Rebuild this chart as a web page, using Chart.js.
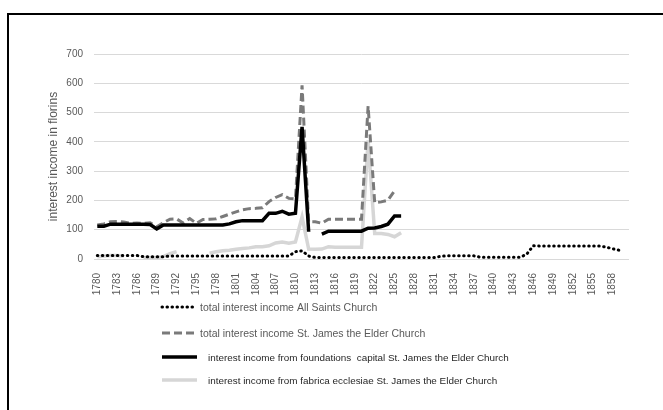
<!DOCTYPE html>
<html>
<head>
<meta charset="utf-8">
<script src="https://cdn.jsdelivr.net/npm/chart.js@4/dist/chart.umd.min.js"></script>
<style>
  html, body { margin: 0; padding: 0; background: #fff; }
  #wrap { position: relative; width: 663px; height: 410px; overflow: hidden; }
  #frame { position: absolute; left: 7px; top: 13px; width: 700px; height: 450px;
           border-left: 2px solid #000; border-top: 2px solid #000; }
  #c { position: absolute; left: 0; top: 0; }
</style>
</head>
<body>
<div id="wrap">
  <div id="frame"></div>
  <canvas id="c" width="663" height="410"></canvas>
</div>
<script>
// Years on the category axis
const years = [
  '1780','1781','1782','1783','1784','1785','1786','1787','1788','1789',
  '1790','1791','1792','1793','1794','1795','1796','1797','1798','1799',
  '1800','1801','1802','1803','1804','1805','1806','1807','1808','1809',
  '1810','1811','1812','1813','1814','1815','1816','1817','1818','1819',
  '1820','1821','1822','1823','1824','1825','1826','1827','1828','1829',
  '1830','1831','1832','1833','1834','1835','1836','1837','1838','1839',
  '1840','1841','1842','1843','1844','1845','1846','1847','1848','1849',
  '1850','1851','1852','1853','1854','1855','1856','1857','1858','1859',
  '1860'
];

// Interest income in florins, one value per year (null = no record)
const allSaintsTotal = [
  12, 12, 12, 12, 12, 12, 12, 8, 8, 8,
  8, 10, 10, 10, 10, 10, 10, 10, 10, 10,
  10, 10, 10, 10, 10, 10, 10, 10, 10, 10,
  25, 28, 10, 5, 5, 5, 5, 5, 5, 5,
  5, 5, 5, 5, 5, 5, 5, 5, 5, 5,
  5, 5, 9, 11, 11, 11, 11, 11, 6, 6,
  6, 6, 6, 6, 6, 16, 45, 44, 44, 44,
  44, 44, 44, 44, 44, 44, 44, 41, 35, 30,
  null
];

const stJamesTotal = [
  116, 120, 127, 128, 126, 122, 123, 122, 124, 110,
  124, 136, 137, 123, 138, 122, 135, 136, 137, 145,
  153, 161, 168, 172, 173, 175, 196, 210, 220, 207,
  205, 593, 127, 127, 122, 136, 136, 136, 136, 136,
  136, 522, 192, 195, 201, 233, null, null, null, null,
  null, null, null, null, null, null, null, null, null, null,
  null, null, null, null, null, null, null, null, null, null,
  null, null, null, null, null, null, null, null, null, null,
  null
];

const foundationsCapital = [
  112, 112, 119, 119, 119, 119, 119, 119, 118, 103,
  116, 116, 116, 116, 116, 116, 116, 116, 116, 116,
  120, 127, 131, 131, 131, 131, 156, 156, 163, 153,
  156, 451, 93, null, 85, 95, 95, 95, 95, 95,
  95, 105, 106, 111, 119, 147, 147, null, null, null,
  null, null, null, null, null, null, null, null, null, null,
  null, null, null, null, null, null, null, null, null, null,
  null, null, null, null, null, null, null, null, null, null,
  null
];

const fabricaEcclesiae = [
  8, 10, 12, 12, 10, null, null, 5, 5, 5,
  8, 18, 25, null, null, null, null, 20, 25, 28,
  30, 33, 36, 38, 42, 42, 45, 55, 58, 54,
  58, 144, 34, 33, 34, 42, 40, 40, 40, 40,
  40, 405, 87, 87, 84, 76, 90, null, null, null,
  null, null, null, null, null, null, null, null, null, null,
  null, null, null, null, null, null, null, null, null, null,
  null, null, null, null, null, null, null, null, null, null,
  null
];

const yTicks = [0, 100, 200, 300, 400, 500, 600, 700];

const FONT = '"Liberation Sans", Arial, sans-serif';

// Legend drawn as a single column under the plot
const stackedLegend = {
  id: 'stackedLegend',
  afterDraw(chart, args, opts) {
    const ctx = chart.ctx;
    ctx.save();
    chart.data.datasets.forEach((ds, i) => {
      const row = opts.rows[i];
      ctx.beginPath();
      ctx.setLineDash(ds.borderDash || []);
      ctx.lineCap = ds.borderCapStyle || 'butt';
      ctx.lineWidth = ds.borderWidth;
      ctx.strokeStyle = ds.borderColor;
      ctx.moveTo(opts.sampleStart, row.y);
      ctx.lineTo(opts.sampleEnd, row.y);
      ctx.stroke();
      ctx.setLineDash([]);
      ctx.fillStyle = row.color;
      ctx.font = row.size + 'px ' + FONT;
      ctx.textBaseline = 'middle';
      ctx.textAlign = 'left';
      ctx.fillText(ds.label, row.textX, row.y + 1);
    });
    ctx.restore();
  }
};

new Chart(document.getElementById('c'), {
  type: 'line',
  data: {
    labels: years,
    datasets: [
      {
        label: 'total interest income All Saints Church',
        data: allSaintsTotal,
        borderColor: '#000000',
        borderWidth: 3,
        borderDash: [0.5, 4.5],
        borderCapStyle: 'round',
        order: 0
      },
      {
        label: 'total interest income St. James the Elder Church',
        data: stJamesTotal,
        borderColor: '#7a7a7a',
        borderWidth: 3,
        borderDash: [8, 4],
        order: 2
      },
      {
        label: 'interest income from foundations  capital St. James the Elder Church',
        data: foundationsCapital,
        borderColor: '#000000',
        borderWidth: 3.5,
        order: 1
      },
      {
        label: 'interest income from fabrica ecclesiae St. James the Elder Church',
        data: fabricaEcclesiae,
        borderColor: '#d6d6d6',
        borderWidth: 3.5,
        order: 3
      }
    ]
  },
  options: {
    responsive: false,
    animation: false,
    devicePixelRatio: 1,
    spanGaps: false,
    elements: {
      line: { tension: 0, fill: false, borderJoinStyle: 'miter' },
      point: { radius: 0, hoverRadius: 0 }
    },
    layout: { padding: { top: 54, right: 34, left: 0, bottom: 0 } },
    plugins: {
      legend: { display: false },
      tooltip: { enabled: false },
      stackedLegend: {
        sampleStart: 162,
        sampleEnd: 197,
        rows: [
          { y: 307, textX: 200, color: '#595959', size: 10.5 },
          { y: 333, textX: 200, color: '#595959', size: 10.5 },
          { y: 357, textX: 208, color: '#262626', size: 9.9 },
          { y: 380, textX: 208, color: '#262626', size: 9.9 }
        ]
      }
    },
    scales: {
      x: {
        type: 'category',
        offset: true,
        grid: { display: false },
        border: { display: false },
        ticks: {
          autoSkip: false,
          minRotation: 90,
          maxRotation: 90,
          padding: 6,
          color: '#595959',
          font: { family: FONT, size: 10 },
          callback: (v, i) => (i % 3 === 0 ? years[i] : '')
        },
        afterFit: (s) => { s.height = 151; }
      },
      y: {
        min: yTicks[0],
        max: yTicks[yTicks.length - 1],
        afterBuildTicks: (s) => { s.ticks = yTicks.map(v => ({ value: v })); },
        grid: { color: '#d9d9d9', drawTicks: false, lineWidth: 1 },
        border: { display: false },
        ticks: {
          padding: 11,
          color: '#595959',
          font: { family: FONT, size: 10 }
        },
        title: {
          display: true,
          text: 'interest income in florins',
          color: '#595959',
          font: { family: FONT, size: 12 },
          padding: { top: 46, bottom: 0 }
        },
        afterFit: (s) => { s.width = 94; }
      }
    }
  },
  plugins: [stackedLegend]
});
</script>
</body>
</html>
